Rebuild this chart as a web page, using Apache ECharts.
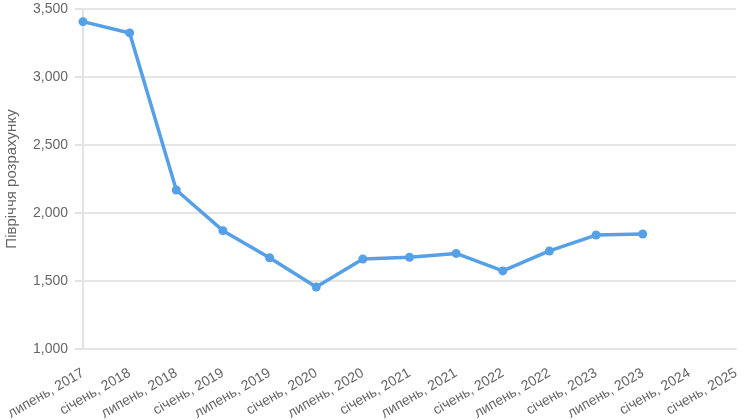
<!doctype html>
<html lang="uk">
<head>
    <meta charset="UTF-8">
    <title>Півріччя розрахунку</title>
    <script src="https://cdn.jsdelivr.net/npm/echarts@6/dist/echarts.min.js"></script>
    <style>
        html, body { margin: 0; padding: 0; background: #fff; }
        #chart { width: 750px; height: 420px; }
    </style>
</head>
<body>
<div id="chart"></div>
<script type="text/javascript">
    // категорії (півріччя)
    var categories = [
        'липень, 2017', 'січень, 2018', 'липень, 2018', 'січень, 2019', 'липень, 2019',
        'січень, 2020', 'липень, 2020', 'січень, 2021', 'липень, 2021', 'січень, 2022',
        'липень, 2022', 'січень, 2023', 'липень, 2023', 'січень, 2024', 'січень, 2025'
    ];
    // значення
    var values = [3407, 3324, 2169, 1870, 1671, 1456, 1662, 1675, 1703, 1574, 1721, 1838, 1846];
    // шкала Y
    var yMin = 1000, yMax = 3500, yStep = 500;

    var myChart = echarts.init(document.getElementById('chart'));
    var option = {
        animation: false,
        textStyle: { fontFamily: 'Liberation Sans, Arial, sans-serif' },
        grid: { left: 83, right: 14, top: 9, bottom: 71, outerBoundsMode: 'none', containLabel: false },
        xAxis: {
            type: 'category',
            data: categories,
            boundaryGap: false,
            axisLine: { show: true, lineStyle: { color: '#e3e3e3', width: 2 } },
            axisTick: { show: false },
            axisLabel: { rotate: 30, color: '#666', fontSize: 14, margin: 23, interval: 0 },
            splitLine: { show: false }
        },
        yAxis: {
            type: 'value',
            min: yMin,
            max: yMax,
            interval: yStep,
            name: 'Півріччя розрахунку',
            nameLocation: 'middle',
            nameGap: 64,
            nameTextStyle: { color: '#666', fontSize: 15 },
            axisLine: { show: true, lineStyle: { color: '#e3e3e3', width: 2 } },
            axisTick: { show: true, length: 8, lineStyle: { color: '#e3e3e3', width: 2 } },
            axisLabel: {
                color: '#666', fontSize: 14, margin: 15,
                formatter: function (v) { return v.toLocaleString('en-US'); }
            },
            splitLine: { show: true, lineStyle: { color: '#e6e6e6', width: 2 } }
        },
        series: [{
            type: 'line',
            data: values,
            symbol: 'circle',
            symbolSize: 9,
            lineStyle: { color: '#55a0e6', width: 3.5 },
            itemStyle: { color: '#55a0e6' }
        }]
    };
    myChart.setOption(option);
</script>
</body>
</html>
